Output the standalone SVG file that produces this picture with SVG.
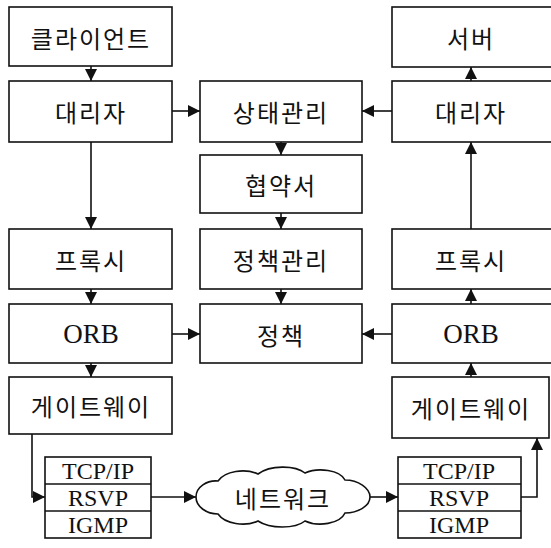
<svg xmlns="http://www.w3.org/2000/svg" width="551" height="548" viewBox="0 0 551 548">
<style>
.b{fill:#fff;stroke:#111;stroke-width:1.6}
.k{font-family:"Noto Sans CJK KR","Noto Sans",sans-serif;font-size:24px;letter-spacing:2px;fill:#111;text-anchor:middle;dominant-baseline:central}
.l{font-family:"Liberation Serif",serif;font-size:27px;fill:#111;text-anchor:middle;dominant-baseline:central}
.s{font-family:"Liberation Serif",serif;font-size:24px;fill:#111;text-anchor:middle;dominant-baseline:central}
.c{fill:none;stroke:#111;stroke-width:1.6}
</style>
<defs>
<marker id="ah" viewBox="0 0 10 10" refX="10" refY="5" markerWidth="13" markerHeight="12" markerUnits="userSpaceOnUse" orient="auto">
<path d="M0,0 L10,5 L0,10 z" fill="#111"/>
</marker>
</defs>
<rect width="551" height="548" fill="#fff"/>
<g id="connectors" class="c" marker-end="url(#ah)">
<line x1="91" y1="66" x2="91" y2="81"/>
<line x1="91" y1="142" x2="91" y2="229"/>
<line x1="91" y1="289" x2="91" y2="304"/>
<line x1="91" y1="363" x2="91" y2="377"/>
<line x1="172" y1="111" x2="200" y2="111"/>
<line x1="172" y1="334" x2="200" y2="334"/>
<line x1="281" y1="142" x2="281" y2="155"/>
<line x1="281" y1="213" x2="281" y2="229"/>
<line x1="281" y1="289" x2="281" y2="304"/>
<line x1="392" y1="111" x2="362" y2="111"/>
<line x1="392" y1="334" x2="362" y2="334"/>
<line x1="471" y1="81" x2="471" y2="67"/>
<line x1="471" y1="229" x2="471" y2="142"/>
<line x1="471" y1="304" x2="471" y2="289"/>
<line x1="471" y1="377" x2="471" y2="363"/>
<polyline points="32,434 32,497 45,497"/>
<line x1="151" y1="497" x2="196" y2="497"/>
<line x1="370" y1="497" x2="398" y2="497"/>
<polyline points="521,497 537,497 537,438"/>
</g>
<g id="client"><rect class="b" x="9" y="7" width="163" height="59"/><text class="k" x="91" y="37">클라이언트</text></g>
<g id="agent-l"><rect class="b" x="9" y="81" width="163" height="61"/><text class="k" x="91" y="111">대리자</text></g>
<g id="proxy-l"><rect class="b" x="9" y="229" width="163" height="60"/><text class="k" x="91" y="259">프록시</text></g>
<g id="orb-l"><rect class="b" x="9" y="304" width="163" height="59"/><text class="l" x="91" y="334">ORB</text></g>
<g id="gw-l"><rect class="b" x="9" y="377" width="163" height="57"/><text class="k" x="91" y="405">게이트웨이</text></g>
<g id="state"><rect class="b" x="200" y="81" width="162" height="61"/><text class="k" x="281" y="111">상태관리</text></g>
<g id="contract"><rect class="b" x="200" y="155" width="162" height="58"/><text class="k" x="281" y="184">협약서</text></g>
<g id="policymgr"><rect class="b" x="200" y="229" width="162" height="60"/><text class="k" x="281" y="259">정책관리</text></g>
<g id="policy"><rect class="b" x="200" y="304" width="162" height="59"/><text class="k" x="281" y="334">정책</text></g>
<g id="server"><rect class="b" x="392" y="7" width="163" height="60"/><text class="k" x="471" y="37">서버</text></g>
<g id="agent-r"><rect class="b" x="392" y="81" width="163" height="61"/><text class="k" x="471" y="111">대리자</text></g>
<g id="proxy-r"><rect class="b" x="392" y="229" width="163" height="60"/><text class="k" x="471" y="259">프록시</text></g>
<g id="orb-r"><rect class="b" x="392" y="304" width="163" height="59"/><text class="l" x="471" y="334">ORB</text></g>
<g id="gw-r"><rect class="b" x="392" y="377" width="157" height="61"/><text class="k" x="471" y="407">게이트웨이</text></g>
<g id="stack-l">
<rect class="b" x="45" y="457" width="106" height="81"/>
<line class="c" x1="45" y1="484" x2="151" y2="484"/><line class="c" x1="45" y1="511" x2="151" y2="511"/>
<text class="s" x="98" y="471">TCP/IP</text><text class="s" x="98" y="498">RSVP</text><text class="s" x="98" y="525">IGMP</text>
</g>
<g id="network">
<path class="b" d="M196,497 C196,487 207,480 218,481 C225,471 245,468 258,474 C270,465 295,465 305,473 C318,467 340,470 345,480 C358,480 370,488 370,497 C370,506 358,513 345,513 C340,524 318,527 305,521 C295,529 270,529 258,521 C245,527 225,524 218,514 C207,514 196,507 196,497 Z"/>
<text class="k" x="283" y="497">네트워크</text>
</g>
<g id="stack-r">
<rect class="b" x="398" y="457" width="123" height="81"/>
<line class="c" x1="398" y1="484" x2="521" y2="484"/><line class="c" x1="398" y1="511" x2="521" y2="511"/>
<text class="s" x="459" y="471">TCP/IP</text><text class="s" x="459" y="498">RSVP</text><text class="s" x="459" y="525">IGMP</text>
</g>
</svg>
